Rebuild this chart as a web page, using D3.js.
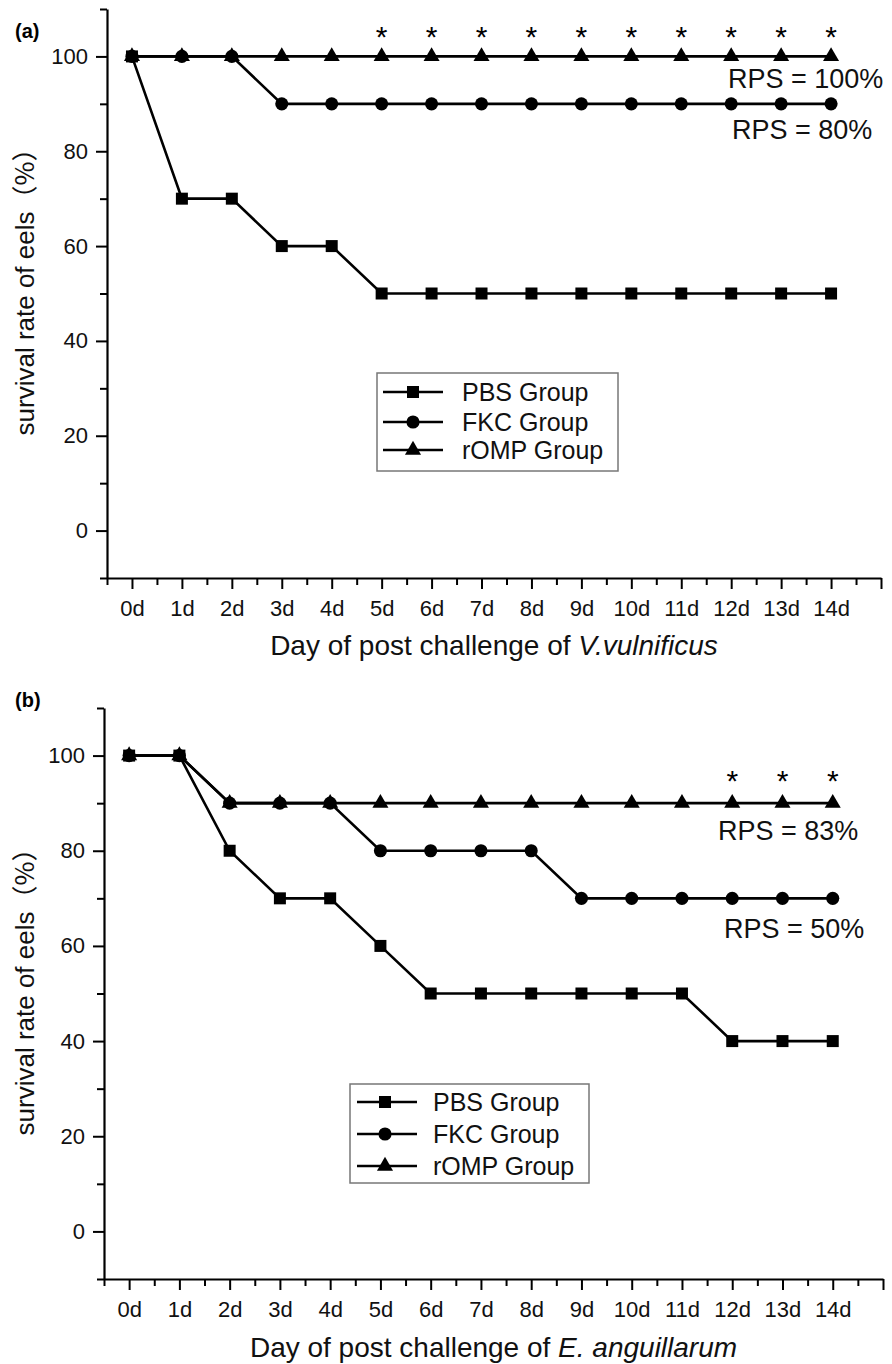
<!DOCTYPE html>
<html>
<head>
<meta charset="utf-8">
<script src="https://cdn.jsdelivr.net/npm/d3@7"></script>
<style>
  body { margin: 0; background: #fff; }
  svg { display: block; font-family: Arial, "Liberation Sans", sans-serif; }
</style>
</head>
<body>
<div id="chart"></div>
<script>
// data
const dayLabels = ["0d","1d","2d","3d","4d","5d","6d","7d","8d","9d","10d","11d","12d","13d","14d"];
const groupNames = ["PBS Group", "FKC Group", "rOMP Group"];

// panel (a) - V. vulnificus
const pbsA  = [100, 70, 70, 60, 60, 50, 50, 50, 50, 50, 50, 50, 50, 50, 50];
const fkcA  = [100, 100, 100, 90, 90, 90, 90, 90, 90, 90, 90, 90, 90, 90, 90];
const rompA = [100, 100, 100, 100, 100, 100, 100, 100, 100, 100, 100, 100, 100, 100, 100];
const starsA = [5, 6, 7, 8, 9, 10, 11, 12, 13, 14];
const rpsA = ["RPS = 100%", "RPS = 80%"];

// panel (b) - E. anguillarum
const pbsB  = [100, 100, 80, 70, 70, 60, 50, 50, 50, 50, 50, 50, 40, 40, 40];
const fkcB  = [100, 100, 90, 90, 90, 80, 80, 80, 80, 70, 70, 70, 70, 70, 70];
const rompB = [100, 100, 90, 90, 90, 90, 90, 90, 90, 90, 90, 90, 90, 90, 90];
const starsB = [12, 13, 14];
const rpsB = ["RPS = 83%", "RPS = 50%"];

const yMajor = [0, 20, 40, 60, 80, 100];
const yMinor = [-10, 10, 30, 50, 70, 90, 110];

const width = 892;
const height = 1364;

const svg = d3.select("#chart")
    .append("svg")
    .attr("width", width)
    .attr("height", height);

const symbols = [d3.symbolSquare, d3.symbolCircle, d3.symbolTriangle];
const symbolSizes = [144, 135, 112];

const panels = [
    {
        tag: "(a)", series: [pbsA, fkcA, rompA], stars: starsA, rps: rpsA, species: "V.vulnificus",
        left: 107, right: 881, top: 9, bottom: 578, tagY: 38,
        legend: { x: 377, y: 373, w: 241, h: 98, lineX: 6, symX: 36, textX: 85, rows: [19, 49, 77] },
        rpsPos: [[728, 88], [732, 139]], starGap: 24, titleGap: 77
    },
    {
        tag: "(b)", series: [pbsB, fkcB, rompB], stars: starsB, rps: rpsB, species: "E. anguillarum",
        left: 104, right: 883, top: 708, bottom: 1279, tagY: 707,
        legend: { x: 350, y: 1084, w: 239, h: 99, lineX: 7, symX: 35, textX: 83, rows: [18, 50, 82] },
        rpsPos: [[718, 840], [724, 938]], starGap: 27, titleGap: 78
    }
];

panels.forEach(p => drawPanel(p));

function drawPanel(p) {
    const x = d3.scaleLinear().domain([-0.5, 15]).range([p.left, p.right]);
    const y = d3.scaleLinear().domain([-10, 110]).range([p.bottom, p.top]);

    const g = svg.append("g");

    // x axis - minor then major ticks
    g.append("g")
        .attr("transform", `translate(0,${p.bottom})`)
        .call(d3.axisBottom(x).tickValues(d3.range(-0.5, 15, 1)).tickSize(7).tickFormat("").tickSizeOuter(0))
        .call(a => a.select(".domain").remove())
        .call(a => a.selectAll("line").attr("stroke-width", 2));

    const xAxis = g.append("g")
        .attr("transform", `translate(0,${p.bottom})`)
        .call(d3.axisBottom(x)
            .tickValues(d3.range(0, 16))
            .tickSize(11)
            .tickSizeOuter(0)
            .tickFormat(i => dayLabels[i] || ""));
    xAxis.select(".domain").attr("stroke-width", 2.2);
    xAxis.selectAll("line").attr("stroke-width", 2);
    xAxis.selectAll("text")
        .attr("y", 22)
        .attr("font-size", 22)
        .attr("fill", "#111");

    // y axis
    g.append("g")
        .attr("transform", `translate(${p.left},0)`)
        .call(d3.axisLeft(y).tickValues(yMinor).tickSize(7).tickFormat("").tickSizeOuter(0))
        .call(a => a.select(".domain").remove())
        .call(a => a.selectAll("line").attr("stroke-width", 2));

    const yAxis = g.append("g")
        .attr("transform", `translate(${p.left},0)`)
        .call(d3.axisLeft(y).tickValues(yMajor).tickSize(11).tickPadding(8).tickSizeOuter(0));
    yAxis.select(".domain").attr("stroke-width", 2.2);
    yAxis.selectAll("line").attr("stroke-width", 2);
    yAxis.selectAll("text")
        .attr("font-size", 22)
        .attr("fill", "#111");

    // axis titles
    const xt = g.append("text")
        .attr("x", (p.left + p.right) / 2)
        .attr("y", p.bottom + p.titleGap)
        .attr("text-anchor", "middle")
        .attr("font-size", 28)
        .attr("fill", "#111");
    xt.append("tspan").text("Day of post challenge of ");
    xt.append("tspan").attr("font-style", "italic").text(p.species);

    const yt = g.append("text")
        .attr("transform", `translate(34,${(p.top + p.bottom) / 2 - 8}) rotate(-90)`)
        .attr("text-anchor", "middle")
        .attr("font-size", 26)
        .attr("fill", "#111");
    yt.append("tspan").text("survival rate of eels");
    yt.append("tspan").attr("font-family", "'Noto Sans CJK SC', sans-serif").text("（%）");

    // panel tag
    g.append("text")
        .attr("x", 15)
        .attr("y", p.tagY)
        .attr("font-size", 20)
        .attr("font-weight", "bold")
        .text(p.tag);

    // series lines and markers
    const line = d3.line()
        .x((d, i) => x(i))
        .y(d => y(d));

    p.series.forEach((values, k) => {
        g.append("path")
            .datum(values)
            .attr("fill", "none")
            .attr("stroke", "#000")
            .attr("stroke-width", 2.6)
            .attr("d", line);
    });
    p.series.forEach((values, k) => {
        g.append("g")
            .selectAll("path")
            .data(values)
            .enter().append("path")
            .attr("transform", (d, i) => `translate(${x(i)},${y(d)})`)
            .attr("d", d3.symbol().type(symbols[k]).size(symbolSizes[k]))
            .attr("fill", "#000");
    });

    // significance stars above rOMP
    const romp = p.series[2];
    g.append("g")
        .selectAll("text")
        .data(p.stars)
        .enter().append("text")
        .attr("x", d => x(d))
        .attr("y", d => y(romp[d]) - p.starGap + 15)
        .attr("text-anchor", "middle")
        .attr("font-size", 30)
        .text("*");

    // RPS notes
    g.append("g")
        .selectAll("text")
        .data(p.rps)
        .enter().append("text")
        .attr("x", (d, i) => p.rpsPos[i][0])
        .attr("y", (d, i) => p.rpsPos[i][1])
        .attr("font-size", 27)
        .attr("fill", "#111")
        .text(d => d);

    // legend
    const L = p.legend;
    const leg = g.append("g").attr("transform", `translate(${L.x},${L.y})`);
    leg.append("rect")
        .attr("width", L.w)
        .attr("height", L.h)
        .attr("fill", "#fff")
        .attr("stroke", "#777")
        .attr("stroke-width", 1.5);
    groupNames.forEach((name, k) => {
        const row = leg.append("g").attr("transform", `translate(0,${L.rows[k]})`);
        row.append("line")
            .attr("x1", L.lineX)
            .attr("x2", L.lineX + 60)
            .attr("stroke", "#000")
            .attr("stroke-width", 2.6);
        row.append("path")
            .attr("transform", `translate(${L.symX},0)`)
            .attr("d", d3.symbol().type(symbols[k]).size(symbolSizes[k]))
            .attr("fill", "#000");
        row.append("text")
            .attr("x", L.textX)
            .attr("dy", "0.36em")
            .attr("font-size", 25)
            .attr("fill", "#111")
            .text(name);
    });
}
</script>
</body>
</html>
